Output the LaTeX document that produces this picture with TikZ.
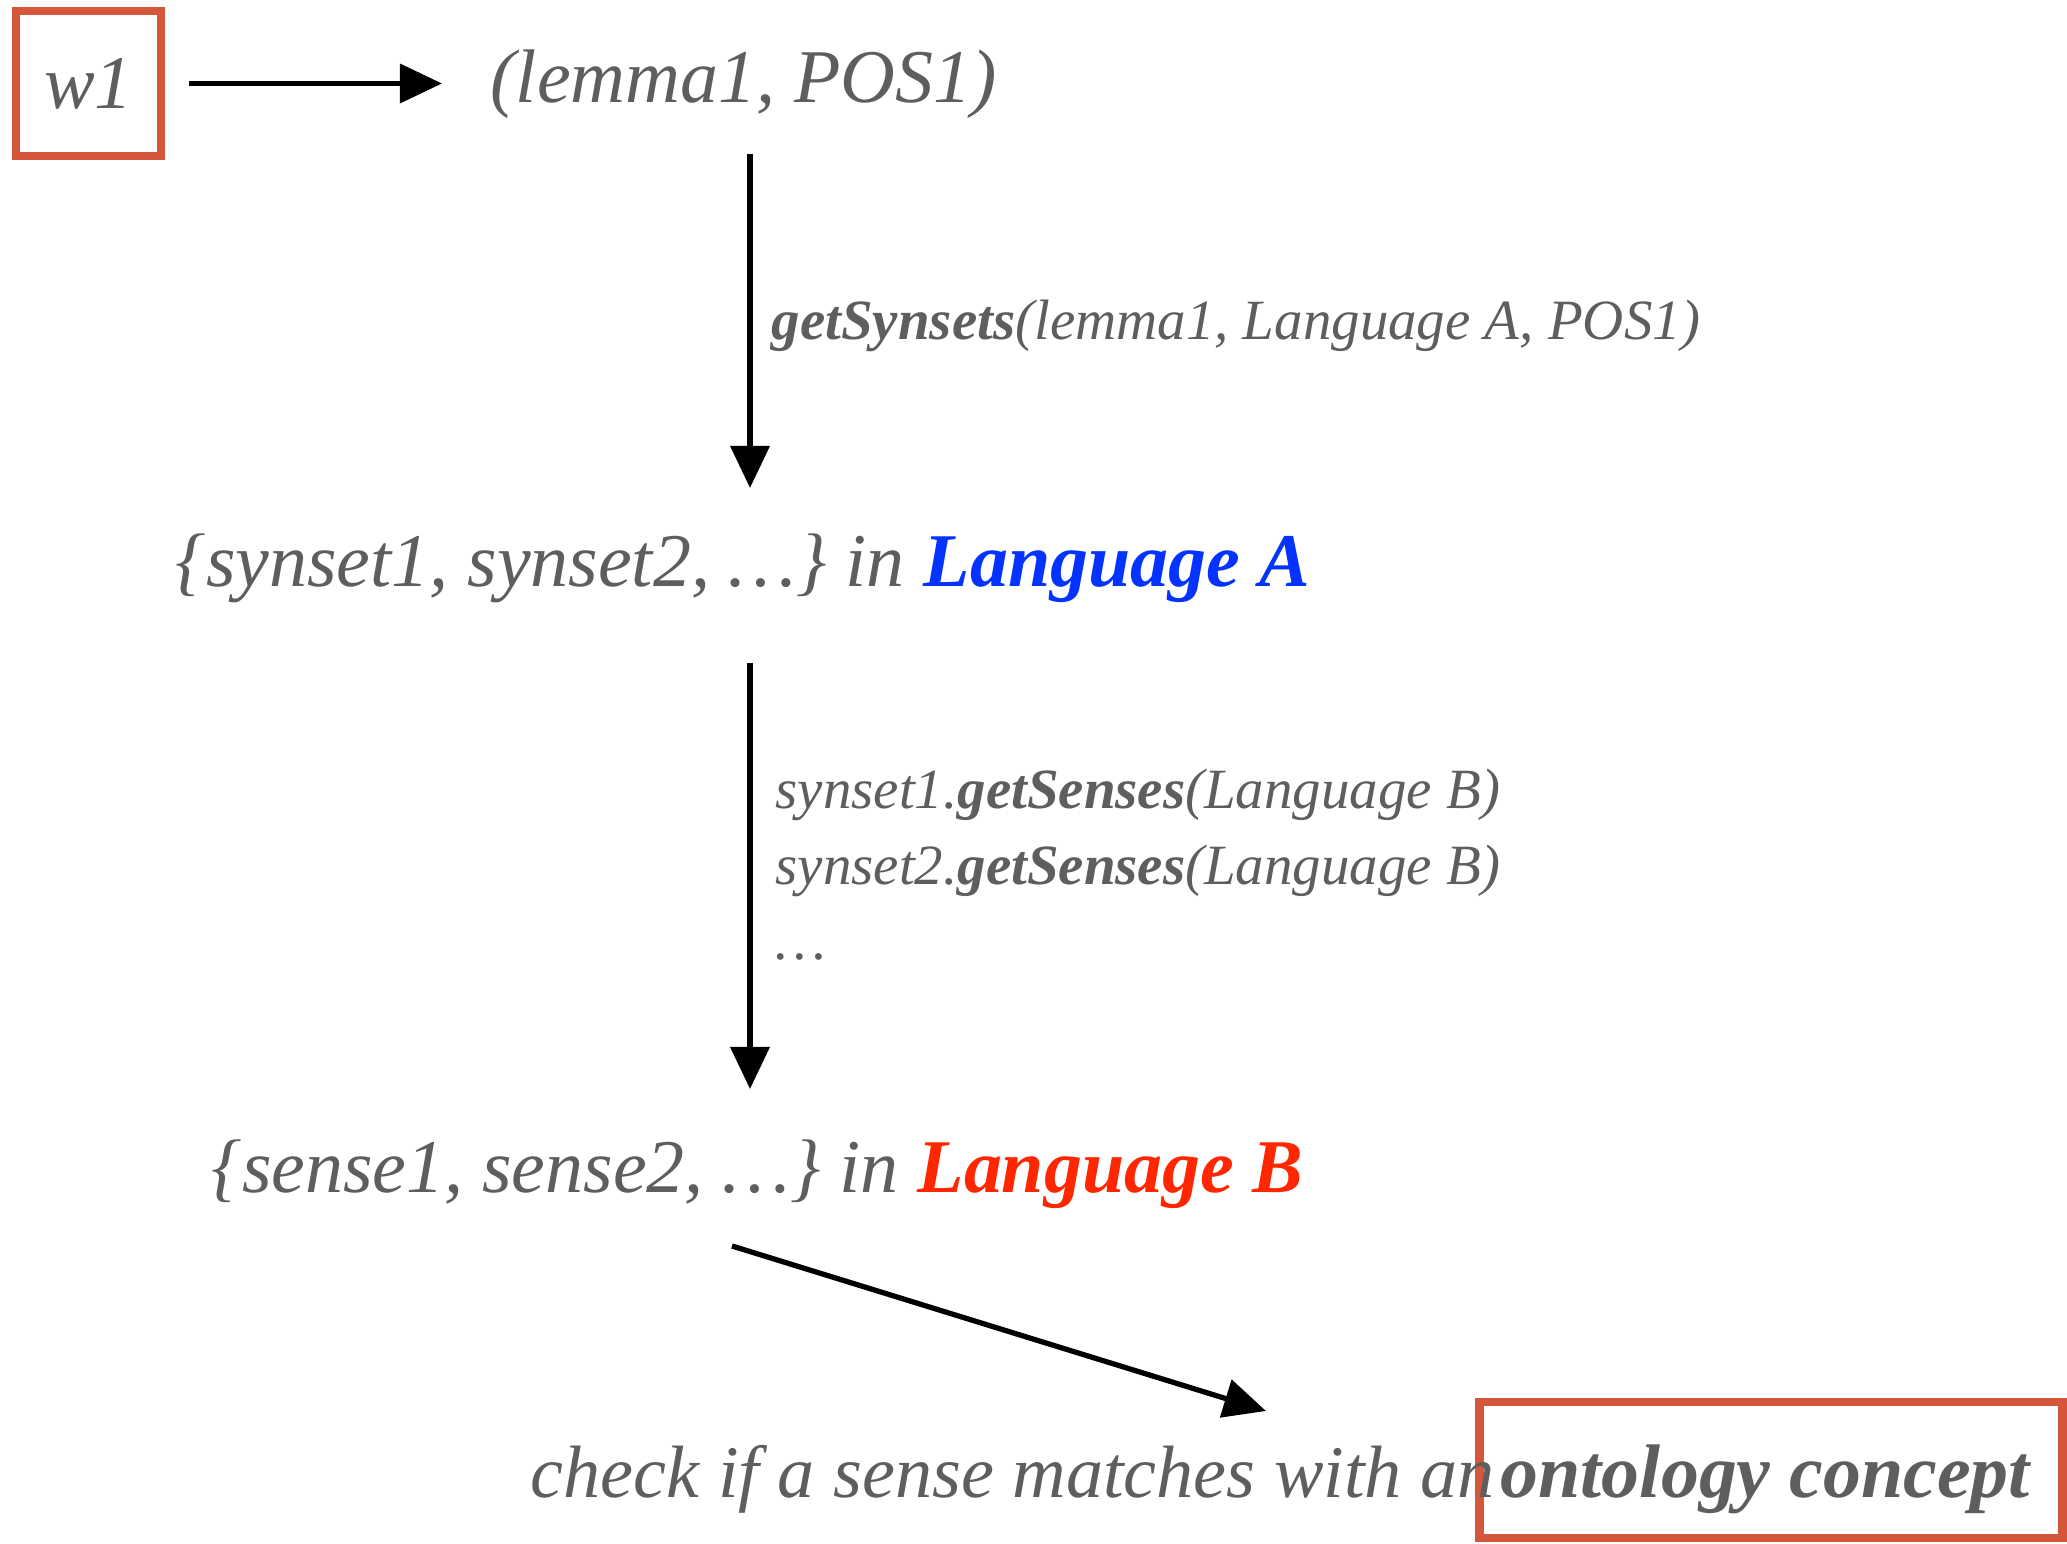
\documentclass[tikz,border=0pt]{standalone}
\usepackage{fontspec}
\setmainfont{Liberation Serif}
\usetikzlibrary{arrows.meta}
\definecolor{txtgray}{HTML}{5E5E5E}
\definecolor{boxred}{HTML}{D5573B}
\definecolor{langblue}{HTML}{0433FF}
\definecolor{langred}{HTML}{FF2600}
\begin{document}
\begin{tikzpicture}[x=0.1mm,y=-0.1mm,
  main/.style={font=\fontsize{21.6}{26}\selectfont\itshape, text=txtgray, inner sep=0pt, anchor=base west},
  lab/.style={font=\fontsize{16.2}{19.5}\selectfont\itshape, text=txtgray, inner sep=0pt, anchor=base west},
  redbox/.style={draw=boxred, line width=2.4pt, inner sep=0pt},
  arr/.style={line width=1.5pt, black, -{Triangle[length=12pt,width=11pt]}}]
\useasboundingbox (0,0) rectangle (2067,1544);

% w1 box
\node[redbox, minimum width=14.5mm, minimum height=14.5mm,
      font=\fontsize{21.6}{26}\selectfont\itshape, text=txtgray] (w1) at (88.5,83.5) {w1};
\node[main] (lemma) at (490,103) {(lemma1, POS1)};
\draw[arr, shorten <=2.4mm, shorten >=4.8mm] (w1.east) -- (w1.east -| lemma.west);

% first vertical arrow
\coordinate (a1s) at (750,154);
\coordinate (a1e) at (750,488);
\draw[arr] (a1s) -- (a1e);
\node[lab] (lab1) at (771,340) {\textbf{getSynsets}(lemma1, Language A, POS1)};

\node[main] (synsets) at (175,587) {\{synset1, synset2, \ldots\} in \textbf{\color{langblue}Language A}};

% second vertical arrow
\coordinate (a2s) at (750,663);
\coordinate (a2e) at (750,1089);
\draw[arr] (a2s) -- (a2e);
\node[lab] (lab2a) at (775,809) {synset1.\textbf{getSenses}(Language B)};
\node[lab] (lab2b) at (775,885) {synset2.\textbf{getSenses}(Language B)};
\node[lab] (lab2c) at (775,960) {\ldots};

\node[main] (senses) at (211,1193) {\{sense1, sense2, \ldots\} in \textbf{\color{langred}Language B}};

% diagonal arrow
\coordinate (a3s) at (732,1246);
\coordinate (a3e) at (1266,1411);
\draw[arr] (a3s) -- (a3e);

% bottom line
\node[redbox, minimum width=58.3mm, minimum height=13.6mm] (ocbox) at (1771,1470) {};
\node[main, font=\fontsize{21.1}{26}\selectfont\itshape] (check) at (530,1498) {check if a sense matches with an};
\node[main] (onto) at (1500,1498) {\textbf{ontology concept}};
\end{tikzpicture}
\end{document}
